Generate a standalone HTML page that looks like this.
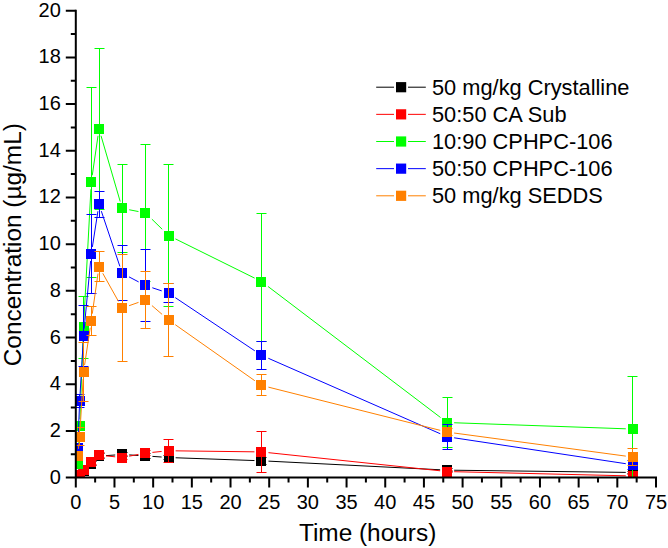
<!DOCTYPE html>
<html><head><meta charset="utf-8"><style>
html,body{margin:0;padding:0;background:#fff;}
svg{display:block;font-family:"Liberation Sans",sans-serif;}
</style></head><body>
<svg width="668" height="548" viewBox="0 0 668 548"><defs><clipPath id="pc"><rect x="75.8" y="0" width="592.2" height="477.6"/></clipPath></defs><rect width="668" height="548" fill="#fff"/><g clip-path="url(#pc)"><path d="M77.50 475.50V477.50M72.50 475.50H82.50M72.50 477.50H82.50M79.50 473.50V475.50M74.50 473.50H84.50M74.50 475.50H84.50M83.50 469.50V471.50M78.50 469.50H88.50M78.50 471.50H88.50M91.50 461.50V465.50M86.50 461.50H96.50M86.50 465.50H96.50M99.50 453.50V458.50M94.50 453.50H104.50M94.50 458.50H104.50M122.50 452.50V456.50M117.50 452.50H127.50M117.50 456.50H127.50M145.50 453.50V458.50M140.50 453.50H150.50M140.50 458.50H150.50M168.50 455.50V459.50M163.50 455.50H173.50M163.50 459.50H173.50M261.50 457.50V464.50M256.50 457.50H266.50M256.50 464.50H266.50M447.50 468.50V471.50M442.50 468.50H452.50M442.50 471.50H452.50M632.50 471.50V473.50M627.50 471.50H637.50M627.50 473.50H637.50" stroke="#000000" stroke-width="1.0" fill="none"/><path d="M106.00 455.63L115.22 454.98M129.21 454.91L138.43 455.47M152.42 456.38L161.64 457.03M175.63 457.77L254.47 460.55M268.46 461.14L440.13 469.78M454.13 470.22L625.79 472.38" stroke="#000000" stroke-width="1.0" fill="none"/><path d="M73 471h10v10h-10zM75 470h10v10h-10zM79 466h10v10h-10zM86 459h10v10h-10zM94 451h10v10h-10zM117 449h10v10h-10zM140 451h10v10h-10zM164 453h10v10h-10zM256 456h10v10h-10zM442 465h10v10h-10zM628 467h10v10h-10z" fill="#000000"/><path d="M77.50 475.50V478.50M72.50 475.50H82.50M72.50 478.50H82.50M79.50 474.50V476.50M74.50 474.50H84.50M74.50 476.50H84.50M83.50 469.50V471.50M78.50 469.50H88.50M78.50 471.50H88.50M91.50 460.50V464.50M86.50 460.50H96.50M86.50 464.50H96.50M99.50 452.50V457.50M94.50 452.50H104.50M94.50 457.50H104.50M122.50 455.50V459.50M117.50 455.50H127.50M117.50 459.50H127.50M145.50 450.50V455.50M140.50 450.50H150.50M140.50 455.50H150.50M168.50 439.50V462.50M163.50 439.50H173.50M163.50 462.50H173.50M261.50 431.50V472.50M256.50 431.50H266.50M256.50 472.50H266.50M447.50 470.50V472.50M442.50 470.50H452.50M442.50 472.50H452.50M632.50 474.50V477.50M627.50 474.50H637.50M627.50 477.50H637.50" stroke="#ff0000" stroke-width="1.0" fill="none"/><path d="M106.00 455.89L115.23 456.82M129.18 456.19L138.46 454.42M152.41 452.38L161.64 451.46M175.63 450.84L254.46 451.83M268.45 452.66L440.14 470.79M454.13 471.70L625.79 475.80" stroke="#ff0000" stroke-width="1.0" fill="none"/><path d="M73 472h10v10h-10zM75 470h10v10h-10zM79 465h10v10h-10zM86 457h10v10h-10zM94 450h10v10h-10zM117 453h10v10h-10zM140 448h10v10h-10zM164 446h10v10h-10zM256 447h10v10h-10zM442 467h10v10h-10zM628 471h10v10h-10z" fill="#ff0000"/><path d="M77.50 460.50V467.50M72.50 460.50H82.50M72.50 467.50H82.50M79.50 422.50V429.50M74.50 422.50H84.50M74.50 429.50H84.50M83.50 296.50V358.50M78.50 296.50H88.50M78.50 358.50H88.50M91.50 87.50V277.50M86.50 87.50H96.50M86.50 277.50H96.50M99.50 48.50V209.50M94.50 48.50H104.50M94.50 209.50H104.50M122.50 164.50V252.50M117.50 164.50H127.50M117.50 252.50H127.50M145.50 144.50V281.50M140.50 144.50H150.50M140.50 281.50H150.50M168.50 164.50V306.50M163.50 164.50H173.50M163.50 306.50H173.50M261.50 213.50V341.50M256.50 213.50H266.50M256.50 341.50H266.50M447.50 397.50V447.50M442.50 397.50H452.50M442.50 447.50H452.50M632.50 376.50V481.50M627.50 376.50H637.50M627.50 481.50H637.50" stroke="#00ff00" stroke-width="1.0" fill="none"/><path d="M78.10 456.60L79.31 433.24M79.94 419.24L83.26 334.26M83.91 320.26L90.90 189.28M92.28 175.31L98.00 135.81M101.03 135.75L120.20 201.51M129.18 209.76L138.46 211.54M151.86 219.14L162.20 229.24M175.42 238.88L254.67 278.14M268.06 286.51L440.54 417.50M454.13 422.75L625.79 428.80" stroke="#00ff00" stroke-width="1.0" fill="none"/><path d="M73 459h10v10h-10zM75 421h10v10h-10zM79 322h10v10h-10zM86 177h10v10h-10zM94 124h10v10h-10zM117 203h10v10h-10zM140 208h10v10h-10zM164 231h10v10h-10zM256 277h10v10h-10zM442 418h10v10h-10zM628 424h10v10h-10z" fill="#00ff00"/><path d="M77.50 443.50V452.50M72.50 443.50H82.50M72.50 452.50H82.50M79.50 394.50V407.50M74.50 394.50H84.50M74.50 407.50H84.50M83.50 305.50V366.50M78.50 305.50H88.50M78.50 366.50H88.50M91.50 214.50V293.50M86.50 214.50H96.50M86.50 293.50H96.50M99.50 191.50V217.50M94.50 191.50H104.50M94.50 217.50H104.50M122.50 245.50V300.50M117.50 245.50H127.50M117.50 300.50H127.50M145.50 249.50V321.50M140.50 249.50H150.50M140.50 321.50H150.50M168.50 283.50V302.50M163.50 283.50H173.50M163.50 302.50H173.50M261.50 341.50V369.50M256.50 341.50H266.50M256.50 369.50H266.50M447.50 424.50V449.50M442.50 424.50H452.50M442.50 449.50H452.50M632.50 460.50V469.50M627.50 460.50H637.50M627.50 469.50H637.50" stroke="#0000ff" stroke-width="1.0" fill="none"/><path d="M78.02 440.95L79.38 407.79M80.08 393.80L83.12 342.66M84.20 328.67L90.61 260.95M92.36 246.98L97.92 211.21M101.32 211.13L119.90 266.44M128.99 276.87L138.65 281.93M152.32 287.76L161.73 290.88M175.29 297.63L254.80 350.82M268.30 358.27L440.30 433.75M454.11 437.80L625.81 463.71" stroke="#0000ff" stroke-width="1.0" fill="none"/><path d="M73 443h10v10h-10zM75 396h10v10h-10zM79 331h10v10h-10zM86 249h10v10h-10zM94 199h10v10h-10zM117 268h10v10h-10zM140 280h10v10h-10zM164 288h10v10h-10zM256 350h10v10h-10zM442 432h10v10h-10zM628 460h10v10h-10z" fill="#0000ff"/><path d="M77.50 451.50V460.50M72.50 451.50H82.50M72.50 460.50H82.50M79.50 427.50V445.50M74.50 427.50H84.50M74.50 445.50H84.50M83.50 342.50V401.50M78.50 342.50H88.50M78.50 401.50H88.50M91.50 306.50V335.50M86.50 306.50H96.50M86.50 335.50H96.50M99.50 251.50V281.50M94.50 251.50H104.50M94.50 281.50H104.50M122.50 254.50V361.50M117.50 254.50H127.50M117.50 361.50H127.50M145.50 271.50V328.50M140.50 271.50H150.50M140.50 328.50H150.50M168.50 283.50V356.50M163.50 283.50H173.50M163.50 356.50H173.50M261.50 374.50V395.50M256.50 374.50H266.50M256.50 395.50H266.50M447.50 428.50V435.50M442.50 428.50H452.50M442.50 435.50H452.50M632.50 448.50V465.50M627.50 448.50H637.50M627.50 465.50H637.50" stroke="#ff8000" stroke-width="1.0" fill="none"/><path d="M78.43 448.90L78.97 443.50M80.09 429.52L83.12 379.08M84.59 365.10L90.22 327.70M92.27 313.74L98.01 273.54M102.78 273.31L118.45 301.37M129.10 305.69L138.54 302.37M151.94 305.58L162.12 314.39M175.27 324.69L254.83 380.72M268.40 387.13L440.19 430.33M454.11 433.02L625.81 456.12" stroke="#ff8000" stroke-width="1.0" fill="none"/><path d="M73 451h10v10h-10zM75 432h10v10h-10zM79 367h10v10h-10zM86 316h10v10h-10zM94 262h10v10h-10zM117 303h10v10h-10zM140 295h10v10h-10zM164 315h10v10h-10zM256 380h10v10h-10zM442 427h10v10h-10zM628 452h10v10h-10z" fill="#ff8000"/></g><path d="M75.8 9.70V478.6M74.8 477.6H657.00" stroke="#000" stroke-width="2.0" fill="none"/><path d="M65.8 477.60H75.8M70.8 454.25H75.8M65.8 430.91H75.8M70.8 407.57H75.8M65.8 384.22H75.8M70.8 360.88H75.8M65.8 337.53H75.8M70.8 314.19H75.8M65.8 290.84H75.8M70.8 267.50H75.8M65.8 244.15H75.8M70.8 220.81H75.8M65.8 197.46H75.8M70.8 174.12H75.8M65.8 150.77H75.8M70.8 127.43H75.8M65.8 104.08H75.8M70.8 80.74H75.8M65.8 57.39H75.8M70.8 34.05H75.8M65.8 10.70H75.8M75.80 477.6V487.6M95.14 477.6V482.6M114.48 477.6V487.6M133.82 477.6V482.6M153.16 477.6V487.6M172.50 477.6V482.6M191.84 477.6V487.6M211.18 477.6V482.6M230.52 477.6V487.6M249.86 477.6V482.6M269.20 477.6V487.6M288.54 477.6V482.6M307.88 477.6V487.6M327.22 477.6V482.6M346.56 477.6V487.6M365.90 477.6V482.6M385.24 477.6V487.6M404.58 477.6V482.6M423.92 477.6V487.6M443.26 477.6V482.6M462.60 477.6V487.6M481.94 477.6V482.6M501.28 477.6V487.6M520.62 477.6V482.6M539.96 477.6V487.6M559.30 477.6V482.6M578.64 477.6V487.6M597.98 477.6V482.6M617.32 477.6V487.6M636.66 477.6V482.6M656.00 477.6V487.6" stroke="#000" stroke-width="2.0" fill="none"/><text x="60.8" y="483.60" text-anchor="end" font-size="20">0</text><text x="60.8" y="436.91" text-anchor="end" font-size="20">2</text><text x="60.8" y="390.22" text-anchor="end" font-size="20">4</text><text x="60.8" y="343.53" text-anchor="end" font-size="20">6</text><text x="60.8" y="296.84" text-anchor="end" font-size="20">8</text><text x="60.8" y="250.15" text-anchor="end" font-size="20">10</text><text x="60.8" y="203.46" text-anchor="end" font-size="20">12</text><text x="60.8" y="156.77" text-anchor="end" font-size="20">14</text><text x="60.8" y="110.08" text-anchor="end" font-size="20">16</text><text x="60.8" y="63.39" text-anchor="end" font-size="20">18</text><text x="60.8" y="16.70" text-anchor="end" font-size="20">20</text><text x="75.80" y="508.6" text-anchor="middle" font-size="20">0</text><text x="114.48" y="508.6" text-anchor="middle" font-size="20">5</text><text x="153.16" y="508.6" text-anchor="middle" font-size="20">10</text><text x="191.84" y="508.6" text-anchor="middle" font-size="20">15</text><text x="230.52" y="508.6" text-anchor="middle" font-size="20">20</text><text x="269.20" y="508.6" text-anchor="middle" font-size="20">25</text><text x="307.88" y="508.6" text-anchor="middle" font-size="20">30</text><text x="346.56" y="508.6" text-anchor="middle" font-size="20">35</text><text x="385.24" y="508.6" text-anchor="middle" font-size="20">40</text><text x="423.92" y="508.6" text-anchor="middle" font-size="20">45</text><text x="462.60" y="508.6" text-anchor="middle" font-size="20">50</text><text x="501.28" y="508.6" text-anchor="middle" font-size="20">55</text><text x="539.96" y="508.6" text-anchor="middle" font-size="20">60</text><text x="578.64" y="508.6" text-anchor="middle" font-size="20">65</text><text x="617.32" y="508.6" text-anchor="middle" font-size="20">70</text><text x="656.00" y="508.6" text-anchor="middle" font-size="20">75</text><text x="367.6" y="540.5" text-anchor="middle" font-size="24.4">Time (hours)</text><text transform="translate(20.5 244.7) rotate(-90)" text-anchor="middle" font-size="24.4">Concentration (µg/mL)</text><path d="M376.2 87.20H394M408 87.20H425.8" stroke="#000000" stroke-width="1.0"/><rect x="396" y="82.10" width="10.2" height="10.2" fill="#000000"/><text x="432" y="94.60" font-size="21.8">50 mg/kg Crystalline</text><path d="M376.2 114.35H394M408 114.35H425.8" stroke="#ff0000" stroke-width="1.0"/><rect x="396" y="109.25" width="10.2" height="10.2" fill="#ff0000"/><text x="432" y="121.75" font-size="21.8">50:50 CA Sub</text><path d="M376.2 141.50H394M408 141.50H425.8" stroke="#00ff00" stroke-width="1.0"/><rect x="396" y="136.40" width="10.2" height="10.2" fill="#00ff00"/><text x="432" y="148.90" font-size="21.8">10:90 CPHPC-106</text><path d="M376.2 168.65H394M408 168.65H425.8" stroke="#0000ff" stroke-width="1.0"/><rect x="396" y="163.55" width="10.2" height="10.2" fill="#0000ff"/><text x="432" y="176.05" font-size="21.8">50:50 CPHPC-106</text><path d="M376.2 195.80H394M408 195.80H425.8" stroke="#ff8000" stroke-width="1.0"/><rect x="396" y="190.70" width="10.2" height="10.2" fill="#ff8000"/><text x="432" y="203.20" font-size="21.8">50 mg/kg SEDDS</text></svg>
</body></html>
